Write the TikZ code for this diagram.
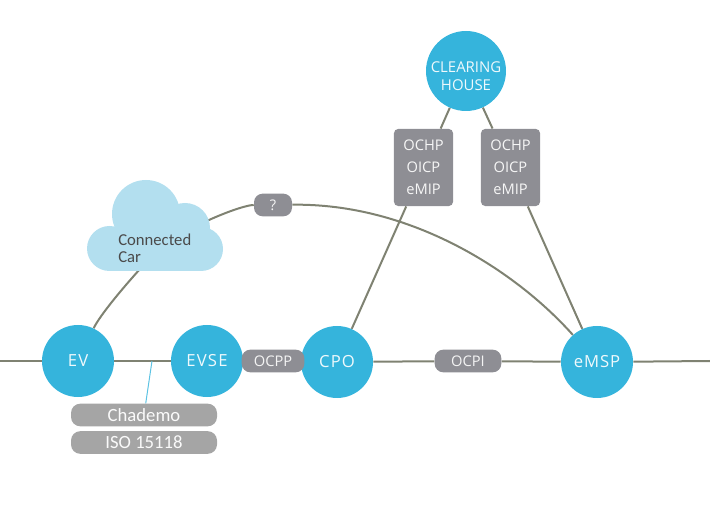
\documentclass[tikz,border=0pt]{standalone}
\usepackage{fontspec}
\setmainfont{Open Sans}
\newfontfamily\calib{Carlito}
\usetikzlibrary{backgrounds}
\definecolor{hub}{HTML}{35B4DC}
\definecolor{tag}{HTML}{8E8E94}
\definecolor{pale}{HTML}{A5A5A5}
\definecolor{cloudc}{HTML}{B3DFEF}
\definecolor{wire}{HTML}{7F8272}
\definecolor{inktxt}{HTML}{4A4A4A}
\tikzset{
 hubnode/.style={circle,fill=hub,minimum size=54pt,inner sep=0pt,text=white!92!hub,font=\fontsize{12.5}{15}\selectfont\addfontfeature{LetterSpace=7},align=center},
 tagpill/.style={rounded corners=6.5pt,fill=tag,text=white!90!tag,inner sep=0pt,font=\fontsize{11}{13}\selectfont},
 tagbox/.style={rounded corners=3.5pt,fill=tag,text=white!92!tag,inner sep=0pt,minimum width=44.5pt,minimum height=58pt,align=center,font=\fontsize{11}{16.5}\selectfont},
 stdpill/.style={rounded corners=7pt,fill=pale,text=white!95!pale,inner sep=0pt,minimum width=109.5pt,minimum height=17pt,font=\calib\fontsize{14}{15}\selectfont},
 wireline/.style={draw=wire,line width=1.5pt},
 bluewire/.style={draw=hub!80!white,line width=0.75pt}
}
\begin{document}
\begin{tikzpicture}[x=0.75pt,y=-0.75pt]
\useasboundingbox (0,0) rectangle (710,516);
% cloud
\fill[cloudc] (146,214) circle (34);
\fill[cloudc] (185,228) circle (25);
\fill[cloudc] (109.5,248.5) circle (22.5);
\fill[cloudc] (201,249) circle (22);
\fill[cloudc] (109,235) rectangle (201,271);
\fill[cloudc] (125,215) rectangle (185,240);
\node[text=inktxt,align=left,font=\calib\fontsize{12.5}{12.5}\selectfont,anchor=west,inner sep=0pt] (cloud) at (118,248) {Connected\\Car};
\coordinate (cloudin) at (150,258);
\coordinate (cloudout) at (195,227);
\coordinate (leftend) at (0,361);
\coordinate (rightend) at (710,361);
\coordinate (tap) at (152,361);
\node[hubnode] (ev) at (78,361) {EV};
\node[hubnode] (evse) at (207,361) {EVSE};
\node[hubnode] (cpo) at (337,362) {CPO};
\node[hubnode,font=\fontsize{12.5}{15}\selectfont\addfontfeature{LetterSpace=5}] (emsp) at (597,362) {eMSP};
\node[hubnode,minimum size=60pt] (ch) at (466,71) {};
\node[text=white!92!hub,align=center,inner sep=0pt,font=\fontsize{11.2}{13.5}\selectfont] (chtext) at (466,76) {CLEARING\\HOUSE};
\node[tagpill,minimum width=47pt,minimum height=17pt] (ocpp) at (273,361) {OCPP};
\node[tagpill,minimum width=50pt,minimum height=17pt] (ocpi) at (468,361) {OCPI};
\node[tagpill,minimum width=28.5pt,minimum height=17pt] (q) at (273,205) {?};
\node[tagbox] (boxa) at (423.5,167.5) {OCHP\\OICP\\eMIP};
\node[tagbox] (boxb) at (510.5,167.5) {OCHP\\OICP\\eMIP};
\node[stdpill] (chademo) at (144,415) {Chademo};
\node[stdpill] (iso) at (144,442.5) {ISO 15118};
\begin{pgfonlayer}{background}
\draw[wireline] (leftend) -- (ev);
\draw[wireline] (ev) -- (evse);
\draw[wireline] (cpo) -- (ocpi);
\draw[wireline] (ocpi) -- (emsp);
\draw[wireline] (emsp) -- (rightend);
\draw[wireline] (ch) -- (boxa);
\draw[wireline] (ch) -- (boxb);
\draw[wireline] (boxa) -- (cpo);
\draw[wireline] (boxb) -- (emsp);
\draw[wireline] (ev) .. controls (100,315) and (125,285) .. (cloudin);
\draw[wireline] (cloudout) .. controls (215,216) and (245,205) .. (q);
\draw[wireline] (q) .. controls (410,203) and (515,270) .. (emsp);
\draw[bluewire] (tap) -- (chademo);
\end{pgfonlayer}
\end{tikzpicture}
\end{document}
